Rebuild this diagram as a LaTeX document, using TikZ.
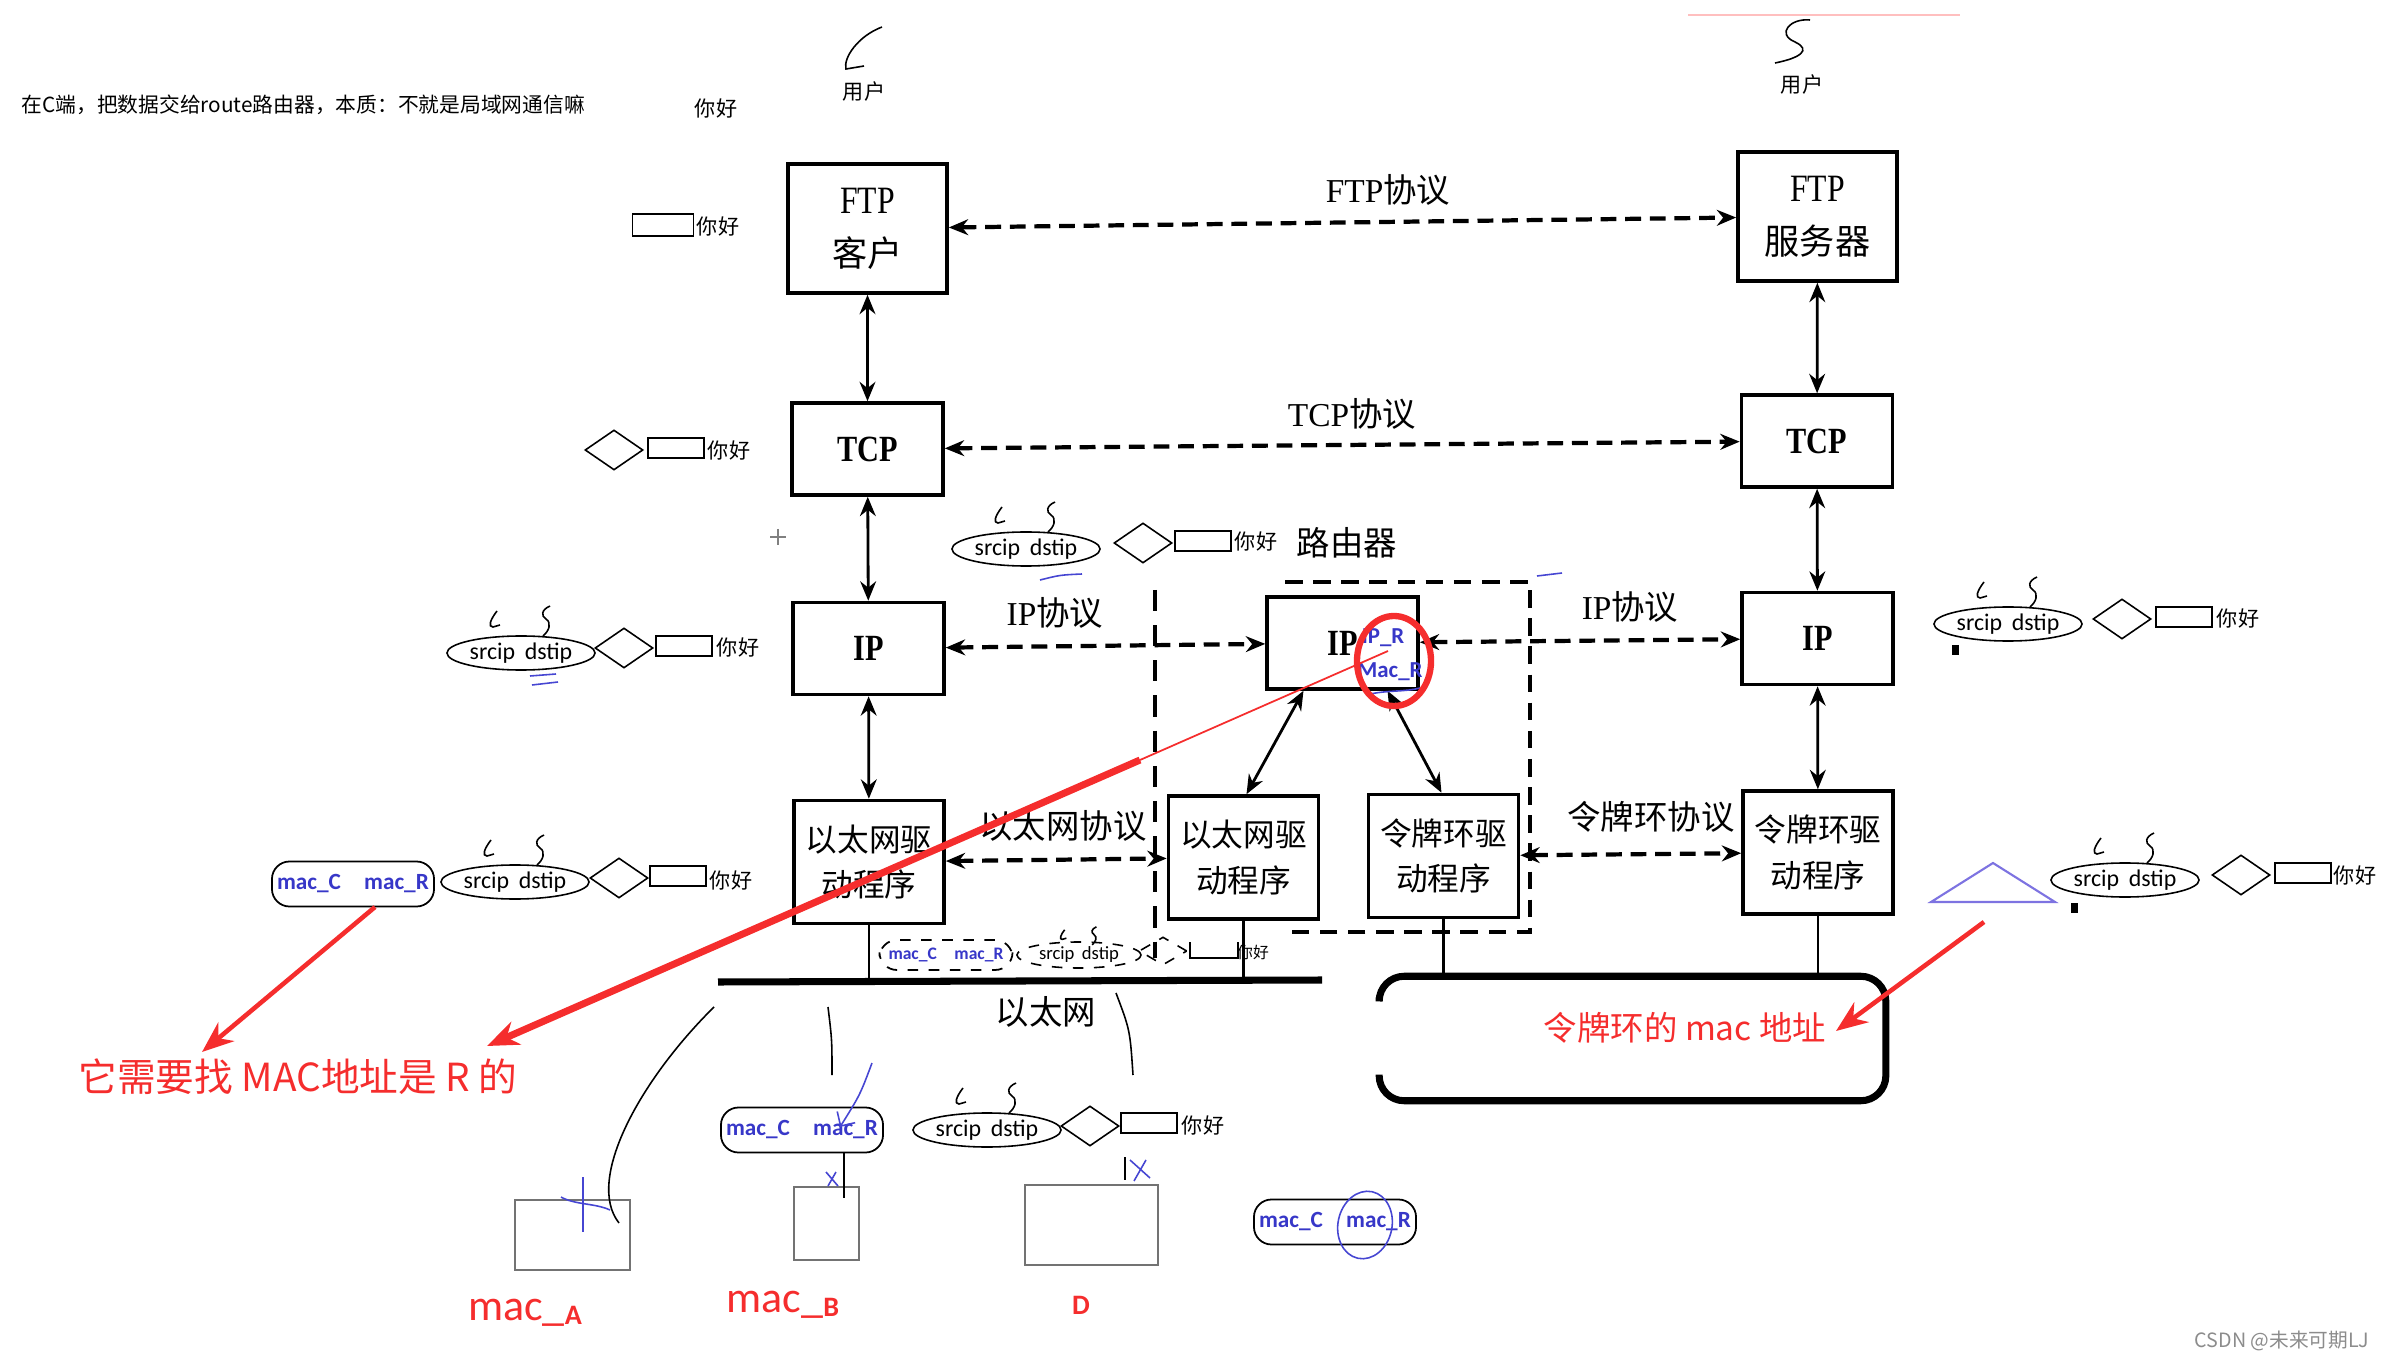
\documentclass[tikz,border=0pt]{standalone}
\usepackage{fontspec}
\usepackage{tikz}
\usetikzlibrary{shapes.geometric,arrows.meta}
\setmainfont{Liberation Serif}
\newfontfamily\cjk{Noto Sans CJK SC}
\newfontfamily\lab{Carlito}
\definecolor{macblue}{RGB}{55,55,200}
\definecolor{notered}{RGB}{245,45,45}
\definecolor{penblue}{RGB}{70,70,210}
\definecolor{triblue}{RGB}{125,115,225}

\begin{document}
\begin{tikzpicture}[>={Stealth[length=5.5pt,width=4.5pt]}, x=0.01cm, y=-0.01cm,
    layer/.style={draw, line width=1pt, align=center, inner sep=0pt},
    ftpbox/.style={layer, minimum width=1.59cm, minimum height=1.29cm,
      font=\fontsize{11pt}{15pt}\selectfont},
    midbox/.style={layer, minimum width=1.51cm, minimum height=0.92cm,
      font=\bfseries\fontsize{10.5pt}{12pt}\selectfont},
    drv/.style={layer, minimum width=1.5cm, minimum height=1.23cm,
      font=\cjk\fontsize{9pt}{13pt}\selectfont},
    proto/.style={<->, line width=1.2pt, dash pattern=on 4.5pt off 2.5pt},
    link/.style={<->, line width=0.8pt},
    plabel/.style={inner sep=0pt, font=\fontsize{9.5pt}{11pt}\selectfont},
    hello/.style={inner sep=0pt, font=\cjk\fontsize{6pt}{7pt}\selectfont},
    datbox/.style={draw, line width=0.5pt, inner sep=0pt,
      minimum width=0.56cm, minimum height=0.2cm},
    hdr/.style={draw, diamond, line width=0.45pt, inner sep=0pt,
      minimum width=0.58cm, minimum height=0.4cm},
    ipell/.style={draw, ellipse, line width=0.45pt, inner sep=0pt,
      minimum width=1.48cm, minimum height=0.34cm,
      font=\lab\fontsize{6.8pt}{7pt}\selectfont},
    macbox/.style={draw, rounded corners=5pt, line width=0.5pt, inner sep=0pt,
      minimum width=1.62cm, minimum height=0.45cm, text=macblue,
      font=\lab\bfseries\fontsize{6.6pt}{7pt}\selectfont},
    host/.style={draw=black!55, line width=0.7pt},
    scrib/.style={line width=0.45pt},
    pen/.style={draw=penblue, line width=0.45pt},
    redtext/.style={inner sep=0pt, text=notered},
    redarrow/.style={-{Stealth[length=9pt,width=7pt]}, draw=notered, line width=1.6pt},
    bus/.style={line width=2pt}
  ]
  \newcommand\csmark[2][1]{%
    \begin{scope}[shift={(#2)}, scale=#1]
      \draw[scrib] (-24,-42) .. controls (-31,-33) and (-33,-26) .. (-28,-26) -- (-21,-28);
      \draw[scrib] (29,-47) .. controls (20,-43) and (20,-37) .. (25,-34)
        .. controls (31,-30) and (28,-22) .. (22,-17);
    \end{scope}}
  \newcommand\narrow[1]{\scalebox{0.82}[1]{#1}}
  \useasboundingbox (0,0) rectangle (2384,1361);

  % notes at the top
  \node[hello, anchor=west, font=\cjk\fontsize{5.9pt}{7pt}\selectfont] (note) at (21,105)
    {在C端，把数据交给route路由器，本质：不就是局域网通信嘛};
  \node[hello] (hi0) at (716,108) {你好};
  \draw[scrib] (882,27) .. controls (858,36) and (843,58) .. (846,69) -- (864,66);
  \node[hello] (userc) at (864,92) {用户};
  \draw[scrib] (1810,20) .. controls (1790,18) and (1776,34) .. (1795,42)
    .. controls (1812,50) and (1800,58) .. (1775,63);
  \node[hello] (users) at (1802,85) {用户};
  \draw[red!25, line width=0.6pt] (1688,15) -- (1960,15);

  % left host
  \node[ftpbox] (ftpc) at (867.5,228.5) {\narrow{FTP}\\{\cjk\fontsize{10pt}{10pt}\selectfont 客户}};
  \node[midbox] (tcpl) at (867.5,449) {\narrow{TCP}};
  \node[midbox] (ipl) at (868.5,648.5) {\narrow{IP}};
  \node[drv] (ethl) at (869,862) {以太网驱\\动程序};

  % router
  \node[midbox] (rip) at (1342.5,643) {\narrow{IP}};
  \node[drv] (reth) at (1243.5,857.5) {以太网驱\\动程序};
  \node[drv] (rtok) at (1443.5,856) {令牌环驱\\动程序};

  % right host
  \node[ftpbox] (ftps) at (1817.5,216.5) {\narrow{FTP}\\{\cjk\fontsize{10pt}{10pt}\selectfont 服务器}};
  \node[midbox] (tcpr) at (1817,441) {\narrow{TCP}};
  \node[midbox] (ipr) at (1817.5,638.5) {\narrow{IP}};
  \node[drv] (tokr) at (1818,852.5) {令牌环驱\\动程序};

  % stacks
  \draw[link] (ftpc) -- (tcpl);
  \draw[link] (tcpl) -- (ipl);
  \draw[link] (ipl) -- (ethl);
  \draw[link] (ftps) -- (tcpr);
  \draw[link] (tcpr) -- (ipr);
  \draw[link] (ipr) -- (tokr);
  \draw[link] ([xshift=-0.39cm]rip.south) -- ([xshift=0.03cm]reth.north);
  \draw[link] ([xshift=0.45cm]rip.south) -- ([xshift=-0.02cm]rtok.north);

  % peer protocols
  \draw[proto] (ftpc) -- (ftps);
  \draw[proto] (tcpl) -- (tcpr);
  \draw[proto] (ipl) -- (rip);
  \draw[proto] (rip) -- (ipr);
  \draw[proto] (ethl) -- (reth);
  \draw[proto] (rtok) -- (tokr);
  \node[plabel] (ftpp) at (1388,190) {FTP{\cjk 协议}};
  \node[plabel] (tcpp) at (1352,414) {TCP{\cjk 协议}};
  \node[plabel] (ipp1) at (1055,613) {IP{\cjk 协议}};
  \node[plabel] (ipp2) at (1630,607) {IP{\cjk 协议}};
  \node[plabel, font=\cjk\fontsize{9.5pt}{11pt}\selectfont] (ethp) at (1063,826) {以太网协议};
  \node[plabel, font=\cjk\fontsize{9.5pt}{11pt}\selectfont] (tokp) at (1651,817) {令牌环协议};
  \node[plabel, font=\cjk\fontsize{9.5pt}{11pt}\selectfont] (rname) at (1347,543) {路由器};

  % router frame
  \draw[line width=1.1pt, dash pattern=on 5pt off 3pt]
    (1285,582) -- (1530,582) -- (1530,932) -- (1285,932);
  \draw[line width=1.1pt, dash pattern=on 6pt off 4pt] (1155,590) -- (1155,958);

  % ethernet and token ring
  \coordinate (busL) at (718,982);
  \coordinate (busR) at (1322,980);
  \draw[bus] (busL) -- (busR);
  \draw[line width=0.7pt] (ethl.south) -- (ethl.south |- busL);
  \draw[line width=0.7pt] (reth.south) -- (reth.south |- busL);
  \node[plabel, font=\cjk\fontsize{9.5pt}{11pt}\selectfont] (ethn) at (1046,1012) {以太网};
  \node[minimum width=5.05cm, minimum height=1.23cm] (ring) at (1632.5,1038.5) {};
  \draw[line width=2pt, rounded corners=0.25cm] ([yshift=0.41cm]ring.west) -- (ring.north west)
    -- (ring.north east) -- (ring.south east) -- (ring.south west) -- ([yshift=-0.36cm]ring.west);
  \draw[line width=0.7pt] (rtok.south) -- (rtok.south |- ring.north);
  \draw[line width=0.7pt] (tokr.south) -- (tokr.south |- ring.north);

  % IP_R / Mac_R
  \node[inner sep=0pt, text=macblue, font=\lab\bfseries\fontsize{6.5pt}{7pt}\selectfont]
    (iprt) at (1383,638) {IP\_R};
  \node[inner sep=0pt, text=macblue, font=\lab\bfseries\fontsize{6.5pt}{7pt}\selectfont]
    (macrt) at (1390,672) {Mac\_R};
  \draw[pen] (1370,694) .. controls (1390,690) and (1405,692) .. (1420,688);
  \node[draw=notered, ellipse, line width=1.8pt, minimum width=0.74cm,
    minimum height=0.9cm] (circ) at (1394,661) {};
  \draw[pen] (1537,576) -- (1562,573);

  % packet sketches
  \node[datbox, minimum width=0.61cm, minimum height=0.22cm] (d1) at (663,225) {};
  \node[hello] (h1) at (718,226) {你好};

  \node[hdr] (t1) at (614,450) {};
  \node[datbox] (d2) at (676,448) {};
  \node[hello] (h2) at (729,450) {你好};

  \node[ipell] (e1) at (521,653) {srcip\hspace{0.4em}dstip};
  \node[hdr] (t2) at (624,648) {};
  \node[datbox] (d3) at (684,646) {};
  \node[hello] (h3) at (738,647) {你好};
  \csmark{e1}
  \draw[pen] (530,676) -- (556,674);
  \draw[pen] (532,685) -- (558,682);

  \node[ipell] (e2) at (1026,549) {srcip\hspace{0.4em}dstip};
  \node[hdr] (t3) at (1143,543) {};
  \node[datbox] (d4) at (1203,541) {};
  \node[hello] (h4) at (1256,541) {你好};
  \csmark{e2}
  \draw[pen] (1040,580) .. controls (1060,575) .. (1082,574);
  \draw[black!50, line width=0.5pt] (770,537) -- (786,537) (778,529) -- (778,545);

  \node[ipell] (e3) at (2008,624) {srcip\hspace{0.4em}dstip};
  \node[hdr] (t4) at (2122,619) {};
  \node[datbox] (d5) at (2184,617) {};
  \node[hello] (h5) at (2238,618) {你好};
  \csmark{e3}
  \draw[line width=2pt] (1955,645) -- (1955,655);

  \draw[triblue, line width=0.6pt] (1993,863) -- (2055,902) -- (1931,902) -- cycle;
  \node[ipell] (e4) at (2125,880) {srcip\hspace{0.4em}dstip};
  \node[hdr] (t5) at (2241,875) {};
  \node[datbox] (d6) at (2303,873) {};
  \node[hello] (h6) at (2355,875) {你好};
  \csmark{e4}
  \draw[line width=2pt] (2074,903) -- (2074,913);

  \node[macbox] (m1) at (353,884) {mac\_C\hspace{1em}mac\_R};
  \node[ipell] (e5) at (515,882) {srcip\hspace{0.4em}dstip};
  \node[hdr] (t6) at (619,878) {};
  \node[datbox] (d7) at (678,876) {};
  \node[hello] (h7) at (731,880) {你好};
  \csmark{e5}

  \node[macbox, dashed, minimum width=1.33cm, minimum height=0.3cm,
    font=\lab\bfseries\fontsize{5pt}{6pt}\selectfont] (m2) at (946,955) {mac\_C\hspace{1em}mac\_R};
  \node[ipell, dashed, minimum width=1.24cm, minimum height=0.26cm,
    font=\lab\fontsize{5.3pt}{6pt}\selectfont] (e6) at (1079,955) {srcip\hspace{0.4em}dstip};
  \node[hdr, dashed, minimum width=0.48cm, minimum height=0.28cm] (t7) at (1163,951) {};
  \node[inner sep=0pt, minimum width=0.46cm, minimum height=0.14cm] (d8) at (1214,950) {};
  \draw[line width=0.5pt] (d8.north west) -- (d8.south west) -- (d8.south east) -- (d8.north east);
  \node[hello, font=\cjk\fontsize{4.5pt}{5pt}\selectfont] (h8) at (1253,952) {你好};
  \csmark[0.6]{e6}

  \node[macbox] (m3) at (802,1130) {mac\_C\hspace{1em}mac\_R};
  \node[ipell] (e7) at (987,1130) {srcip\hspace{0.4em}dstip};
  \node[hdr] (t8) at (1090,1126) {};
  \node[datbox] (d9) at (1149,1123) {};
  \node[hello] (h9) at (1203,1125) {你好};
  \csmark{e7}
  \draw[pen, -{Straight Barb[length=3pt]}] (872,1063) .. controls (860,1095) .. (840,1127);

  \node[macbox] (m4) at (1335,1222) {mac\_C\hspace{1em}mac\_R};
  \draw[pen, rotate around={-12:(1365,1225)}] (1365,1225) ellipse [x radius=0.27cm, y radius=0.34cm];

  % hosts on the ethernet
  \node[host, minimum width=1.15cm, minimum height=0.7cm] (hostA) at (572.5,1235) {};
  \node[host, minimum width=0.65cm, minimum height=0.73cm] (hostB) at (826.5,1223.5) {};
  \node[host, minimum width=1.33cm, minimum height=0.8cm] (hostD) at (1091.5,1225) {};
  \draw[scrib] (714,1007) .. controls (640,1080) and (585,1180) .. (619,1223);
  \draw[scrib] (828,1007) .. controls (832,1040) .. (832,1075);
  \draw[scrib] (1116,993) .. controls (1130,1030) .. (1133,1075);
  \draw[scrib] (844,1153) -- (844,1198);
  \draw[scrib] (1125,1157) -- (1125,1180);
  \draw[pen] (583,1177) -- (583,1232);
  \draw[pen] (561,1197) .. controls (575,1205) and (595,1203) .. (610,1210);
  \draw[pen] (826,1172) -- (838,1186) (836,1172) -- (828,1186);
  \draw[pen] (1130,1160) -- (1150,1178) (1146,1160) -- (1134,1181);

  % red notes
  \node[redtext, font=\lab\fontsize{12.5pt}{13pt}\selectfont] (macA) at (525,1313)
    {mac\_\raisebox{-1pt}{\bfseries\fontsize{8pt}{8pt}\selectfont A}};
  \node[redtext, font=\lab\fontsize{12.5pt}{13pt}\selectfont] (macB) at (783,1305)
    {mac\_\raisebox{-1pt}{\bfseries\fontsize{8pt}{8pt}\selectfont B}};
  \node[redtext, font=\lab\bfseries\fontsize{8pt}{8pt}\selectfont] (macD) at (1081,1305) {D};
  \node[redtext, font=\cjk\fontsize{11pt}{12pt}\selectfont] (need) at (298,1077)
    {它需要找 MAC地址是 R 的};
  \node[redtext, font=\cjk\fontsize{9.5pt}{10pt}\selectfont] (tokmac) at (1685,1028)
    {令牌环的 mac 地址};
  \coordinate (a1s) at (375,907);
  \coordinate (a1e) at (202,1052);
  \draw[redarrow, line width=1.3pt] (a1s) -- (a1e);
  \coordinate (a2s) at (1388,651);
  \coordinate (a2m) at (1140,760);
  \coordinate (a2e) at (487,1046);
  \draw[notered, line width=0.5pt] (a2s) -- (a2m);
  \draw[redarrow, line width=2pt] (a2m) -- (a2e);
  \coordinate (a3s) at (1984,922);
  \coordinate (a3e) at (1836,1031);
  \draw[redarrow, line width=1.3pt] (a3s) -- (a3e);

  \node[inner sep=0pt, anchor=east, text=black!45, font=\cjk\fontsize{5.6pt}{6pt}\selectfont]
    (csdn) at (2370,1341) {CSDN @未来可期LJ};
\end{tikzpicture}
\end{document}
